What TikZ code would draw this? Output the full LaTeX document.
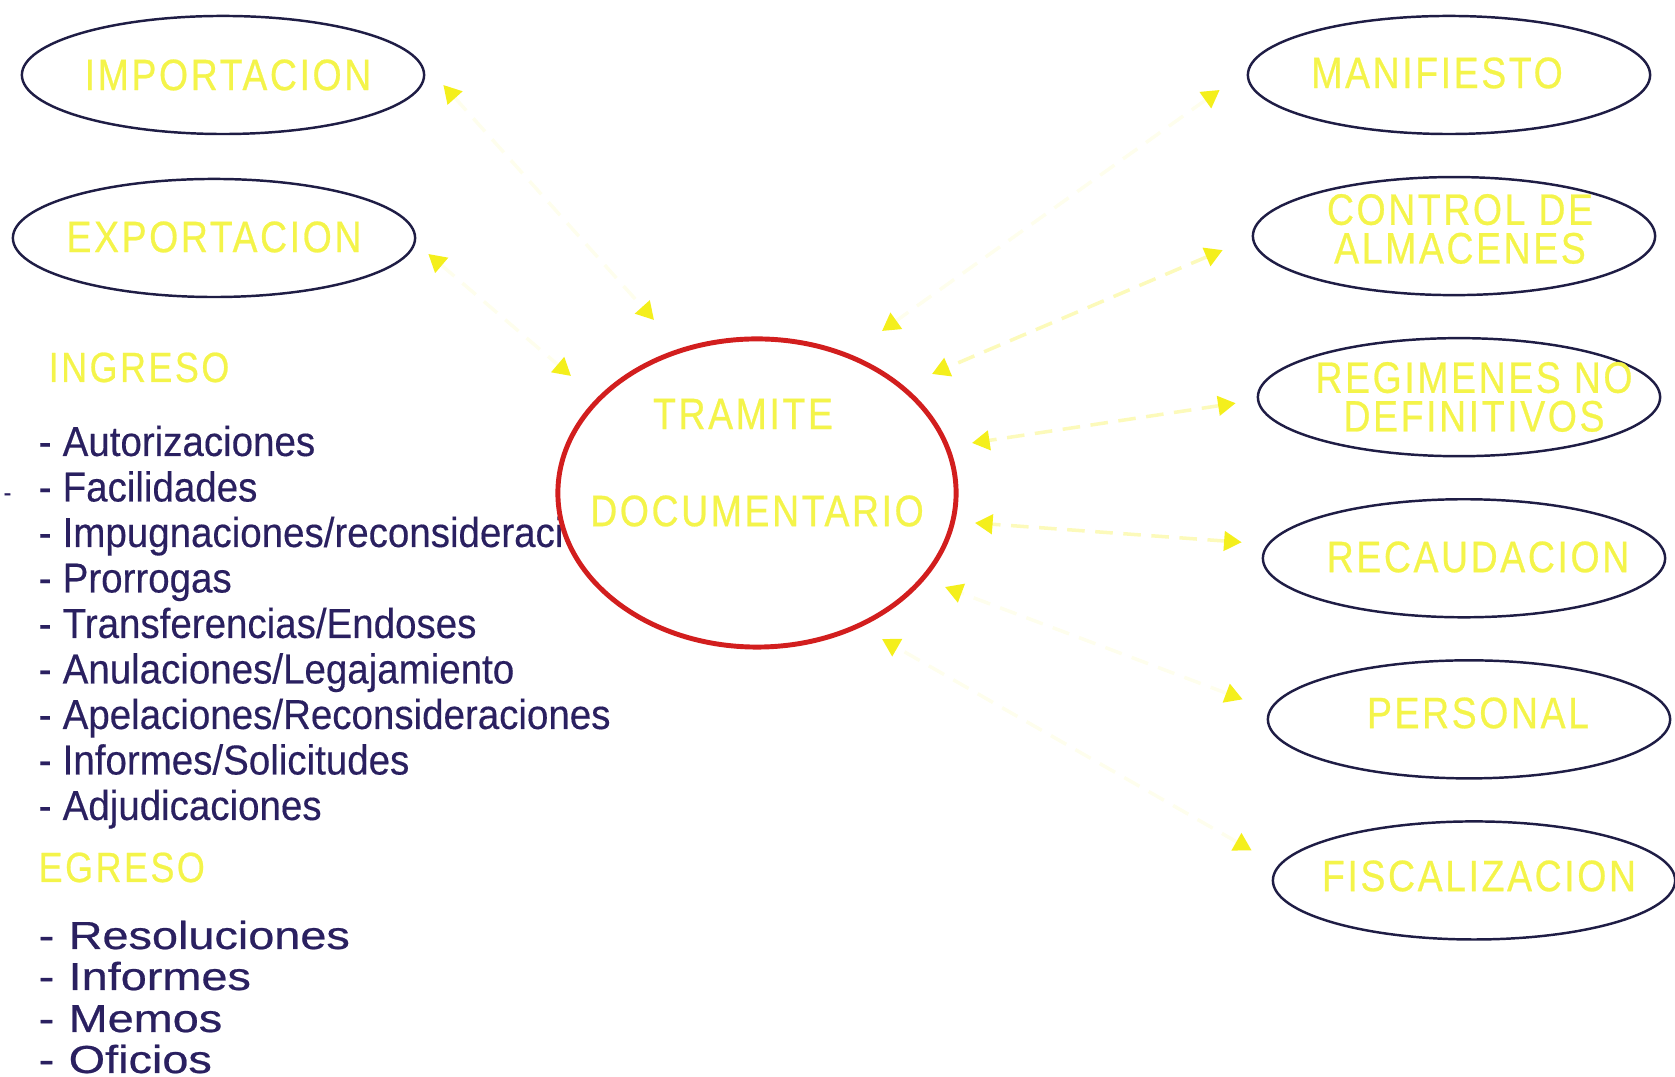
\documentclass[tikz,border=0pt]{standalone}
\usepackage{fontspec}
\setmainfont{Liberation Sans}
\newfontfamily\listafont[FakeStretch=0.92,FakeBold=0.3]{Liberation Sans}
\newfontfamily\salidafont[FakeStretch=1.2,FakeBold=0.6]{Liberation Sans}
\newfontfamily\rotulofont[FakeStretch=0.85,LetterSpace=6,FakeBold=0.6]{Liberation Sans}
\usetikzlibrary{arrows.meta,positioning,shapes.geometric}

\definecolor{tinta}{HTML}{2A2060}
\definecolor{borde}{HTML}{1F1D45}
\definecolor{amarillo}{HTML}{F4F44A}
\definecolor{punta}{HTML}{F4EF1C}
\definecolor{rojo}{HTML}{D21E1E}

\newcommand{\guion}{\makebox[0.24cm][l]{-}}
\newcommand{\guionb}{\makebox[0.30cm][l]{-}}

\tikzset{
  area/.style={ellipse, draw=borde, line width=0.7pt, inner sep=0pt,
    minimum width=4.02cm, minimum height=1.18cm},
  centro/.style={ellipse, draw=rojo, fill=white, line width=1.4pt, inner sep=0pt,
    minimum width=3.98cm, minimum height=3.08cm},
  rotulo/.style={text=amarillo, inner sep=0pt, align=center,
    font=\rotulofont\fontsize{12.5}{11}\selectfont},
  titulo/.style={text=amarillo, inner sep=0pt, anchor=base west,
    font=\rotulofont\fontsize{12}{12}\selectfont},
  item/.style={text=tinta, inner sep=0pt, anchor=base west,
    font=\listafont\fontsize{11.9}{13}\selectfont},
  itemb/.style={text=tinta, inner sep=0pt, anchor=base west,
    font=\salidafont\fontsize{11.1}{12}\selectfont},
  flujo/.style={draw=punta!8, dashed, dash pattern=on 5pt off 3pt, line width=1pt,
    {Triangle[color=punta,length=5pt,width=5.5pt]}-{Triangle[color=punta,length=5pt,width=5.5pt]}},
  claro/.style={draw=punta!30}
}

\begin{document}
\begin{tikzpicture}[x=0.01cm, y=-0.01cm, node distance=1.61cm]
\useasboundingbox (0,0) rectangle (1675,1077);

% areas de la izquierda
\node[area] (imp) at (223,75) {};
\node[area] (exp) at (214,238) {};

% areas de la derecha
\node[area] (man) at (1449,75) {};
\node[area] (ctrl) [below of = man, xshift=0.05cm] {};
\node[area] (reg) [below of = ctrl, xshift=0.05cm] {};
\node[area] (rec) [below of = reg, xshift=0.05cm] {};
\node[area] (per) [below of = rec, xshift=0.05cm] {};
\node[area] (fis) [below of = per, xshift=0.05cm] {};

% ingreso
\node[titulo] (ing) at (48,382) {INGRESO};
\node[item] (suelto) at (3,501) {\fontsize{7}{8}\selectfont -};
\node[item] (i1) at (38,456) {\guion Autorizaciones};
\node[item] (i2) at (38,501.5) {\guion Facilidades};
\node[item] (i3) at (38,547) {\guion Impugnaciones/reconsideraciones};
\node[item] (i4) at (38,592.5) {\guion Prorrogas};
\node[item] (i5) at (38,638) {\guion Transferencias/Endoses};
\node[item] (i6) at (38,683.5) {\guion Anulaciones/Legajamiento};
\node[item] (i7) at (38,729) {\guion Apelaciones/Reconsideraciones};
\node[item] (i8) at (38,774.5) {\guion Informes/Solicitudes};
\node[item] (i9) at (38,820) {\guion Adjudicaciones};

% egreso
\node[titulo] (egr) at (38,882) {EGRESO};
\node[itemb] (e1) at (38,949) {\guionb Resoluciones};
\node[itemb] (e2) at (38,990) {\guionb Informes};
\node[itemb] (e3) at (38,1032) {\guionb Memos};
\node[itemb] (e4) at (38,1073) {\guionb Oficios};

% tramite
\node[centro] (tram) at (757,493) {};
\node[rotulo] (tram1) at (743,414) {TRAMITE};
\node[rotulo] (tram2) at (757,511) {DOCUMENTARIO};

% rotulos
\node[rotulo] (imp-t) at (228,75) {IMPORTACION};
\node[rotulo] (exp-t) at (214,237) {EXPORTACION};
\node[rotulo] (man-t) at (1437,73) {MANIFIESTO};
\node[rotulo] (ctrl-t) at (1460,229) {CONTROL DE\\ALMACENES};
\node[rotulo] (reg-t) at (1474,397) {REGIMENES NO\\DEFINITIVOS};
\node[rotulo] (rec-t) at (1478,557) {RECAUDACION};
\node[rotulo] (per-t) at (1478,713) {PERSONAL};
\node[rotulo] (fis-t) at (1479,876) {FISCALIZACION};

\draw[flujo] ([shift={(18,10)}]imp.east) -- ([shift={(-103,-173)}]tram.center);
\draw[flujo] ([shift={(12,16)}]exp.east) -- ([shift={(-186,-117)}]tram.center);
\draw[flujo] ([shift={(-27,15)}]man.west) -- ([shift={(125,-162)}]tram.center);
\draw[flujo, claro] ([shift={(-29,14)}]ctrl.west) -- ([shift={(175,-119)}]tram.center);
\draw[flujo, claro] ([shift={(-21,6)}]reg.west) -- ([shift={(215,-50)}]tram.center);
\draw[flujo, claro] ([shift={(-20,-16)}]rec.west) -- ([shift={(218,30)}]tram.center);
\draw[flujo] ([shift={(-24,-20)}]per.west) -- ([shift={(188,94)}]tram.center);
\draw[flujo] ([shift={(-20,-30)}]fis.west) -- ([shift={(125,146)}]tram.center);

\end{tikzpicture}
\end{document}
